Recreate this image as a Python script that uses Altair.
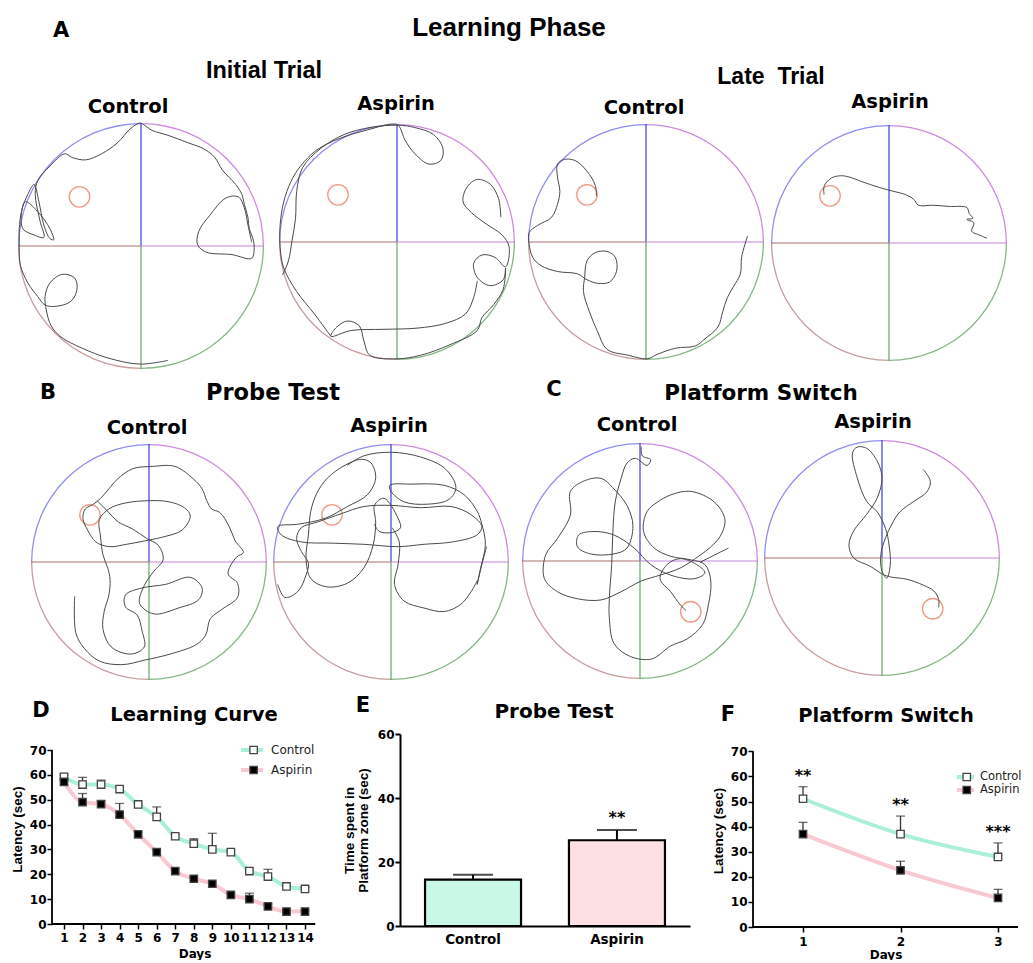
import math
import altair as alt
import pandas as pd

WIDE = "DejaVu Sans"
ARIAL = "Liberation Sans"

GREEN_LINE = "#abefd9"
PINK_LINE = "#f8c9d0"
GREEN_BAR = "#c9f8e6"
PINK_BAR = "#fde0e3"
TRACK = "#4a4a4a"
PLATFORM_COLOR = "#f09985"
ARC_COLORS = ["#cd8be0", "#86b886", "#c99d9d", "#8e8ef3"]    # TR, BR, BL, TL
SPOKE_COLORS = ["#3b3be6", "#c485dd", "#66a566", "#a97070"]  # up, right, down, left

# ---------------- panel D : learning curve ----------------
days = list(range(1, 15))
lc_control = [59.2, 56.1, 56.1, 54.3, 48.1, 43.1, 35.3, 32.3, 30.0, 28.9, 21.3, 19.1, 15.1, 14.1]
lc_control_upper = [60.0, 59.0, 57.9, 55.2, 48.7, 47.1, 36.0, 34.3, 36.5, 29.6, 22.0, 22.0, 15.5, 14.8]
lc_aspirin = [57.2, 49.0, 48.2, 44.0, 36.1, 28.9, 21.3, 18.2, 16.2, 11.7, 10.0, 7.1, 5.0, 5.0]
lc_aspirin_upper = [58.0, 52.5, 49.5, 48.5, 37.0, 29.6, 22.0, 18.8, 16.8, 12.4, 12.4, 8.0, 5.4, 5.4]
latency_ticks = [0, 10, 20, 30, 40, 50, 60, 70]

# ---------------- panel E : probe test ----------------
probe_groups = ["Control", "Aspirin"]
probe_mean = [14.5, 26.8]
probe_upper = [16.0, 30.0]
probe_stars = ["", "**"]
probe_ticks = [0, 20, 40, 60]

# ---------------- panel F : platform switch ----------------
switch_days = [1, 2, 3]
switch_control = [51.1, 37.0, 27.9]
switch_control_upper = [55.9, 44.2, 33.5]
switch_aspirin = [37.0, 22.6, 11.6]
switch_aspirin_upper = [41.7, 26.2, 15.0]
switch_stars = ["**", "**", "***"]

# ---------------- swim paths (arena radius = 100, y up) ----------------
IT_CONTROL = [[(22, -93), (-1, -96), (-27, -91), (-48, -83), (-65, -74), (-73, -65), (-77, -52), (-78, -41),
               (-74, -30), (-64, -23), (-54, -26), (-52, -35), (-57, -45), (-69, -49), (-78, -48), (-84, -41),
               (-92, -30), (-98, -16), (-99, -5), (-99, 3), (-99, 14), (-97, 29), (-92, 42), (-87, 50),
               (-83, 36), (-79, 17), (-74, 6), (-71, 5), (-74, 14), (-84, 28), (-94, 36), (-97, 28),
               (-96, 14), (-87, 9), (-79, 7), (-82, 20), (-86, 42), (-84, 53), (-74, 65), (-62, 75),
               (-56, 72), (-45, 70), (-32, 75), (-19, 84), (-9, 95), (-1, 100), (3, 98), (9, 94), (22, 90),
               (38, 84), (51, 79), (60, 72), (66, 62), (77, 50), (82, 42), (84, 34), (87, 23), (88, 14),
               (91, 6), (92, -1), (90, -10), (74, -7), (53, -5), (46, 1), (47, 12), (56, 25), (69, 39),
               (79, 40), (84, 31), (87, 17), (90, 3)]]
IT_ASPIRIN = [[(-56, -80), (-70, -61), (-85, -42), (-96, -22), (-99, -5), (-99, 15), (-96, 34), (-90, 51),
               (-82, 64), (-68, 78), (-48, 88), (-25, 95), (-4, 100), (1, 99), (7, 86), (15, 75), (27, 66),
               (37, 69), (39, 79), (31, 91), (15, 97), (1, 99), (-23, 97), (-45, 91), (-65, 79), (-80, 63),
               (-85, 43), (-86, 20), (-89, 1), (-92, -16), (-97, -28)],
              [(88, 21), (86, 37), (79, 49), (68, 53), (59, 46), (56, 34), (63, 25), (76, 15), (89, 6),
               (95, -4), (92, -21), (83, -13), (72, -11), (65, -18), (68, -30), (79, -37), (90, -32),
               (92, -22), (90, -40), (82, -53), (72, -64), (68, -75), (45, -87), (20, -96), (0, -99),
               (-23, -96), (-28, -84), (-32, -71), (-42, -67), (-52, -73), (-56, -80), (-39, -75),
               (-11, -74), (17, -73), (41, -69), (58, -61), (65, -47), (68, -33)]]
LT_CONTROL = [[(-42, 39), (-43, 48), (-50, 60), (-60, 69), (-69, 70), (-75, 66), (-75, 55), (-73, 43),
               (-75, 32), (-80, 21), (-92, 14), (-99, 8), (-99, -2), (-96, -13), (-89, -20), (-75, -25),
               (-58, -27), (-50, -32), (-41, -35), (-31, -34), (-25, -25), (-26, -13), (-33, -8), (-43, -9),
               (-50, -16), (-52, -30), (-53, -42), (-48, -59), (-41, -76), (-33, -91), (-15, -96), (1, -99),
               (10, -95), (25, -90), (42, -88), (50, -82), (61, -72), (65, -59), (69, -47), (74, -38),
               (80, -27), (81, -13), (86, 5)]]
LT_ASPIRIN = [[(-55, 41), (-55, 48), (-49, 55), (-41, 57), (-34, 56), (-23, 52), (-8, 47), (3, 44), (14, 41),
               (21, 37), (25, 32), (37, 32), (51, 31), (66, 30), (68, 25), (71, 21), (66, 20), (72, 17),
               (70, 10), (76, 7), (83, 4)]]
PR_CONTROL = [[(-63, -29), (-62, -60), (-55, -73), (-42, -84), (-23, -87), (-3, -83), (18, -78), (40, -70),
               (48, -62), (52, -48), (62, -40), (75, -30), (75, -18), (67, -10), (74, 4), (80, 8), (73, 18),
               (68, 30), (60, 42), (53, 45), (49, 52), (45, 62), (38, 70), (22, 81), (3, 81), (-14, 79),
               (-27, 70), (-34, 62), (-40, 55), (-47, 49), (-54, 45), (-56, 37), (-52, 27), (-45, 17),
               (-34, 13), (-19, 15), (-3, 18), (15, 22), (28, 27), (35, 39), (30, 46), (17, 51), (1, 52),
               (-20, 50), (-34, 45), (-42, 36), (-41, 21), (-39, 6), (-35, -5), (-33, -15), (-34, -28),
               (-38, -42), (-39, -57), (-32, -72), (-15, -78), (-4, -72), (-6, -58), (-10, -45), (-20, -38),
               (-20, -28), (-6, -22), (14, -19), (35, -13), (45, -22), (42, -32), (25, -39), (4, -44),
               (-8, -35), (-4, -20), (4, -8), (12, 2), (8, 14), (-2, 20), (-14, 28), (-26, 34), (-36, 44),
               (-44, 52)]]
PR_ASPIRIN = [[(-96, -19), (-90, -30), (-79, -25), (-72, -11), (-70, -1), (-76, 9), (-80, 20), (-76, 29),
               (-62, 34), (-42, 41), (-23, 47), (0, 48), (25, 46), (51, 47), (68, 40), (77, 30), (73, 23),
               (52, 17), (28, 15), (6, 13), (-23, 15), (-51, 16), (-76, 17), (-93, 23), (-96, 30), (-79, 32),
               (-56, 37), (-37, 47), (-20, 57), (-13, 71), (-17, 84), (-25, 87), (-39, 82), (-54, 71),
               (-63, 58), (-68, 43), (-70, 23), (-72, 3), (-68, -14), (-55, -21), (-37, -18), (-23, -5),
               (-15, 15), (-13, 34), (-14, 48), (-6, 54), (6, 37), (8, 29), (1, 25), (-10, 26), (-14, 32)],
              [(-37, 82), (-23, 90), (0, 93), (25, 89), (46, 79), (55, 63), (49, 53), (31, 49), (11, 51),
               (0, 60), (-1, 65), (17, 66), (45, 65), (62, 57), (73, 43), (77, 32), (80, 15), (76, -5),
               (73, -19), (77, -2), (81, 13)],
              [(1, 29), (7, 17), (6, -2), (3, -19), (11, -33), (28, -39), (45, -42), (59, -36), (68, -25),
               (73, -16)]]
PS_CONTROL = [[(1, 97), (2, 89), (9, 86), (6, 81), (-4, 87), (-11, 83), (-16, 70), (-21, 50), (-23, 25),
               (-24, -3), (-26, -32), (-26, -48), (-22, -70), (-8, -81), (10, -83), (26, -72), (40, -66),
               (53, -54), (58, -37), (60, -17), (55, -3), (43, 1), (26, 4), (12, 11), (3, 25), (6, 42),
               (15, 50), (26, 56), (43, 59), (63, 50), (72, 35), (68, 21), (60, 12), (51, 5), (34, -6),
               (17, -12), (1, -17), (-16, -26), (-33, -33), (-53, -32), (-70, -26), (-81, -15), (-80, 5),
               (-70, 19), (-59, 39), (-59, 59), (-47, 68), (-33, 70), (-22, 61), (-11, 47), (-6, 30),
               (-11, 11), (-22, 6), (-42, 6), (-53, 12), (-52, 22), (-39, 25), (-22, 22), (-5, 11), (9, -3),
               (26, -12), (46, -15), (55, -10), (48, -3), (34, 2), (23, -3), (17, -15), (26, -26), (34, -37),
               (39, -42)],
              [(75, 11), (65, 6), (51, -1)]]
PS_ASPIRIN = [[(35, 75), (41, 65), (38, 56), (27, 48), (15, 39), (8, 28), (3, 17), (-1, 3), (0, -11),
               (4, -17), (7, -6), (6, 11), (3, 25), (-4, 39), (-13, 48), (-21, 68), (-25, 89), (-21, 94),
               (-13, 93), (-4, 82), (0, 68), (-4, 51), (-13, 37), (-24, 23), (-28, 11), (-24, 0), (-10, -7),
               (1, -14), (7, -16), (21, -18), (35, -23), (44, -28), (48, -35), (48, -42)]]
PLATFORM_LEARN = (-50, 40)
PLATFORM_SWITCH = (43, -43)

group_names = ["Control", "Aspirin"]

# ---------------- layout of the arena block (page pixels) ----------------
ARENAS = [
    (IT_CONTROL, PLATFORM_LEARN, 142, 248, 123, "Control", 129, 109),
    (IT_ASPIRIN, PLATFORM_LEARN, 398, 244, 118, "Aspirin", 397, 106),
    (LT_CONTROL, PLATFORM_LEARN, 647, 244, 118, "Control", 645, 110),
    (LT_ASPIRIN, PLATFORM_LEARN, 890, 245, 118, "Aspirin", 891, 104),
    (PR_CONTROL, PLATFORM_LEARN, 150, 564, 118, "Control", 148, 430),
    (PR_ASPIRIN, PLATFORM_LEARN, 392, 564, 118, "Aspirin", 390, 428),
    (PS_CONTROL, PLATFORM_SWITCH, 641, 563, 118, "Control", 638, 427),
    (PS_ASPIRIN, PLATFORM_SWITCH, 883, 560, 118, "Aspirin", 874, 424),
]
HEADERS_WIDE = [("A", 62, 33, 21), ("B", 49, 395, 21), ("Probe Test", 274, 395, 22.5),
                ("C", 555, 392, 21), ("Platform Switch", 762, 396, 21.5)]
HEADERS_NARROW = [("Learning Phase", 510, 30, 26), ("Initial Trial", 265, 73, 23.5),
                  ("Late\u00a0 Trial", 772, 79, 23)]
BLOCK_X = (53, 1013)
BLOCK_Y = (125, 722)

QUAD_T0 = [0, math.pi / 2, math.pi, 1.5 * math.pi]
QUAD_T1 = [math.pi / 2, math.pi, 1.5 * math.pi, 2 * math.pi]
SPOKE_DX = [0, 100, 0, -100]
SPOKE_DY = [100, 0, -100, 0]

track_rows, ring_rows, spoke_rows, plat_rows = [], [], [], []
for a, (segs, plat, cx, cy, R, _t, _tx, _ty) in enumerate(ARENAS):
    for s, seg in enumerate(segs):
        for i, (x, y) in enumerate(seg):
            track_rows.append({"key": f"{a}-{s}", "i": i, "x": x, "y": y, "cx": cx, "cy": cy, "r": R})
    for q in range(4):
        ring_rows.append({"cx": cx, "cy": cy, "r": R, "t0": QUAD_T0[q], "t1": QUAD_T1[q], "c": ARC_COLORS[q]})
        spoke_rows.append({"cx": cx, "cy": cy, "r": R, "dx": SPOKE_DX[q], "dy": SPOKE_DY[q], "c": SPOKE_COLORS[q]})
    plat_rows.append({"x": plat[0], "y": plat[1], "cx": cx, "cy": cy, "r": R})

bx = alt.Scale(domain=list(BLOCK_X), nice=False, zero=False)
by = alt.Scale(domain=list(BLOCK_Y), nice=False, zero=False, reverse=True)
PX = alt.X("px:Q", scale=bx, axis=None)
PY = alt.Y("py:Q", scale=by, axis=None)

ring_df = pd.DataFrame(ring_rows)
ring_layers = []
for R in sorted(set(ring_df["r"])):
    ring_layers.append(
        alt.Chart(ring_df[ring_df["r"] == R]).transform_calculate(px="datum.cx", py="datum.cy")
        .mark_arc(radius=R, radius2=R - 1.3).encode(
            PX, PY, theta=alt.Theta("t0:Q", scale=None, stack=False), theta2="t1:Q",
            color=alt.Color("c:N", scale=None)))

spokes = alt.Chart(pd.DataFrame(spoke_rows)).transform_calculate(
    px="datum.cx", py="datum.cy",
    px2="datum.cx + datum.dx * datum.r / 100", py2="datum.cy - datum.dy * datum.r / 100"
).mark_rule(strokeWidth=1.2).encode(PX, PY, x2="px2:Q", y2="py2:Q", color=alt.Color("c:N", scale=None))

tracks = alt.Chart(pd.DataFrame(track_rows)).transform_calculate(
    px="datum.cx + datum.x * datum.r / 100", py="datum.cy - datum.y * datum.r / 100"
).mark_line(interpolate="catmull-rom", color=TRACK, strokeWidth=1.0).encode(PX, PY, detail="key:N", order="i:Q")

platforms = alt.Chart(pd.DataFrame(plat_rows)).transform_calculate(
    px="datum.cx + datum.x * datum.r / 100", py="datum.cy - datum.y * datum.r / 100"
).mark_point(shape="circle", filled=False, size=420, color=PLATFORM_COLOR, strokeWidth=1.3, opacity=1).encode(PX, PY)

title_df = pd.DataFrame({"t": [a[5] for a in ARENAS], "px": [a[6] for a in ARENAS], "py": [a[7] for a in ARENAS]})
arena_titles = alt.Chart(title_df).mark_text(font=WIDE, fontSize=19.5, fontWeight="bold", color="black",
                                             baseline="middle").encode(PX, PY, text="t:N")
hw = pd.DataFrame(HEADERS_WIDE, columns=["t", "px", "py", "fs"])
hn = pd.DataFrame(HEADERS_NARROW, columns=["t", "px", "py", "fs"])
head_wide = alt.Chart(hw).mark_text(font=WIDE, fontWeight="bold", color="black", baseline="middle").encode(
    PX, PY, text="t:N", size=alt.Size("fs:Q", scale=None))
head_narrow = alt.Chart(hn).mark_text(font=ARIAL, fontWeight="bold", color="black", baseline="middle").encode(
    PX, PY, text="t:N", size=alt.Size("fs:Q", scale=None))

arena_block = alt.layer(*ring_layers, spokes, platforms, tracks, arena_titles, head_wide, head_narrow).properties(
    width=BLOCK_X[1] - BLOCK_X[0], height=BLOCK_Y[1] - BLOCK_Y[0])


# ---------------- helpers for the bottom panels ----------------
def labels(items, origin):
    ox, oy = origin
    out = []
    for t, px, py, font, fs in items:
        out.append(alt.Chart(pd.DataFrame({"t": [t]})).mark_text(
            font=font, fontSize=fs, fontWeight="bold", color="black", align="center", baseline="middle"
        ).encode(text="t:N", x=alt.value(px - ox), y=alt.value(py - oy)))
    return out


def axis_common(**kw):
    base = dict(tickSize=5, tickWidth=1.5, tickColor="black", labelFont=WIDE, labelFontSize=12,
                labelFontWeight="bold", labelColor="black", grid=False, labelOverlap=False,
                titleColor="black", titleFontWeight="bold")
    base.update(kw)
    return alt.Axis(**base)


def latency_panel(dvals, ctrl, ctrl_up, asp, asp_up, xdom, x_end, width, height, ymax, leg, origin, texts,
                  xpad, stars=None):
    n = len(dvals)
    df = pd.DataFrame({"day": dvals + dvals, "group": [group_names[0]] * n + [group_names[1]] * n,
                       "mk": ["open"] * n + ["solid"] * n, "mean": ctrl + asp, "upper": ctrl_up + asp_up})
    xs = alt.Scale(domain=xdom, nice=False, zero=False)
    ys = alt.Scale(domain=[0, ymax], nice=False, zero=False)
    xax = axis_common(values=dvals, title="Days", domain=False, labelPadding=xpad[0], titleFont=WIDE,
                      titleFontSize=12, titlePadding=xpad[1])
    yax = axis_common(values=latency_ticks, title="Latency (sec)", domain=False, labelPadding=1,
                      titleFont=ARIAL, titleFontSize=13.5, titlePadding=5)
    X = alt.X("day:Q", scale=xs, axis=xax)
    Y = alt.Y("mean:Q", scale=ys, axis=yax)
    base = alt.Chart(df)
    lx, ly, lx2, size, clip, loff, lfs = leg
    line = base.mark_line(interpolate="monotone", strokeWidth=4).encode(
        X, Y,
        color=alt.Color("group:N", scale=alt.Scale(domain=group_names, range=[GREEN_LINE, PINK_LINE]),
                        legend=alt.Legend(orient="none", legendX=lx, legendY=ly, title=None, symbolType="stroke",
                                          symbolSize=size, symbolStrokeWidth=4, labelFont=WIDE, labelFontSize=lfs,
                                          labelColor="#222", labelOffset=loff, clipHeight=clip, rowPadding=0,
                                          padding=0)))
    err = base.mark_rule(color="#333", strokeWidth=1.3).encode(X, Y, y2="upper:Q")
    cap = base.mark_tick(orient="horizontal", size=9, thickness=1.3, color="#333").encode(
        X, alt.Y("upper:Q", scale=ys, axis=yax))
    pts = base.mark_point(shape="square", filled=True, size=55, stroke="#444", strokeWidth=1.3, opacity=1).encode(
        X, Y, fill=alt.Fill("mk:N", scale=alt.Scale(domain=["open", "solid"], range=["white", "black"]),
                            legend=alt.Legend(orient="none", legendX=lx2, legendY=ly, title=None,
                                              symbolType="square", symbolSize=55, symbolStrokeColor="#444",
                                              symbolStrokeWidth=1.3, labelExpr="''", labelFontSize=lfs,
                                              clipHeight=clip, rowPadding=0, padding=0)))
    ax = alt.Chart(pd.DataFrame({"day": [xdom[0], xdom[0]], "mean": [0, 0], "x2": [x_end, xdom[0]],
                                 "y2": [0, 70]})).mark_rule(color="black", strokeWidth=1.8).encode(
        X, Y, x2="x2:Q", y2="y2:Q")
    layers = [line, err, cap, pts, ax]
    if stars is not None:
        sdf = pd.DataFrame({"day": dvals, "upper": ctrl_up, "s": stars})
        layers.append(alt.Chart(sdf).mark_text(font=WIDE, fontSize=16, fontWeight="bold", dy=-11,
                                               baseline="middle", color="black").encode(
            X, alt.Y("upper:Q", scale=ys, axis=yax), text="s:N"))
    layers += labels(texts, origin)
    return alt.layer(*layers).properties(width=width, height=height)


# ---------------- D ----------------
panel_d = latency_panel(days, lc_control, lc_control_upper, lc_aspirin, lc_aspirin_upper,
                        [0.3527, 15.726], 14.55, 285, 190, 76.44,
                        (187, 6, 195.6, 484, 20, 6, 12), (53, 732),
                        [("D", 42, 709, WIDE, 21), ("Learning Curve", 195, 713, WIDE, 19.5)],
                        (3, 5))

# ---------------- F ----------------
panel_f = latency_panel(switch_days, switch_control, switch_control_upper, switch_aspirin, switch_aspirin_upper,
                        [0.487, 3.205], 3.205, 265, 193, 76.9,
                        (202, 36.5, 208, 289, 13, 4, 11.5), (748, 732),
                        [("F", 723, 713, WIDE, 21), ("Platform Switch", 881, 714, WIDE, 19.5)],
                        (4, 2), stars=switch_stars)

# ---------------- E ----------------
probe_df = pd.DataFrame({"group": probe_groups, "mean": probe_mean, "upper": probe_upper, "s": probe_stars})
band = alt.Scale(paddingInner=0.333, paddingOuter=0.174)
ex = alt.X("group:N", sort=probe_groups, scale=band,
           axis=axis_common(title=None, labelAngle=0, ticks=False, labelFontSize=13.5, labelPadding=6,
                            domainWidth=2, domainColor="black"))
eys = alt.Scale(domain=[0, 60], nice=False, zero=False)
eyax = axis_common(values=probe_ticks, title=["Time spent in", "Platform zone (sec)"], tickWidth=2,
                   domainWidth=2, domainColor="black", labelPadding=1, titleFont=ARIAL,
                   titleFontSize=13.5, titleLineHeight=14, titlePadding=7)
ey = alt.Y("mean:Q", scale=eys, axis=eyax)
eyu = alt.Y("upper:Q", scale=eys, axis=eyax)
ebase = alt.Chart(probe_df)
bars = ebase.mark_bar(stroke="black", strokeWidth=2.2).encode(
    ex, ey, fill=alt.Fill("group:N", scale=alt.Scale(domain=probe_groups, range=[GREEN_BAR, PINK_BAR]), legend=None))
eerr = ebase.mark_rule(color="black", strokeWidth=2).encode(ex, ey, y2="upper:Q")
ecap = ebase.mark_tick(orient="horizontal", size=40, thickness=2, color="black").encode(ex, eyu)
estar = ebase.mark_text(font=WIDE, fontSize=16, fontWeight="bold", dy=-12, baseline="middle", color="black").encode(
    ex, eyu, text="s:N")
panel_e = alt.layer(bars, eerr, ecap, estar,
                    *labels([("E", 361, 704, WIDE, 21), ("Probe Test", 552, 710, WIDE, 20)], (398, 732))
                    ).properties(width=290, height=192)

bottom = alt.hconcat(panel_d, panel_e, panel_f, spacing=63, bounds="flush").resolve_scale(
    color="independent", fill="independent").resolve_legend(color="independent", fill="independent")

chart = alt.vconcat(arena_block, bottom, spacing=14, bounds="flush").properties(
    padding={"left": 2, "top": 6, "right": 0, "bottom": 0}
).configure_view(strokeWidth=0)

chart.save("out.html", embed_options={"renderer": "svg", "actions": False})
